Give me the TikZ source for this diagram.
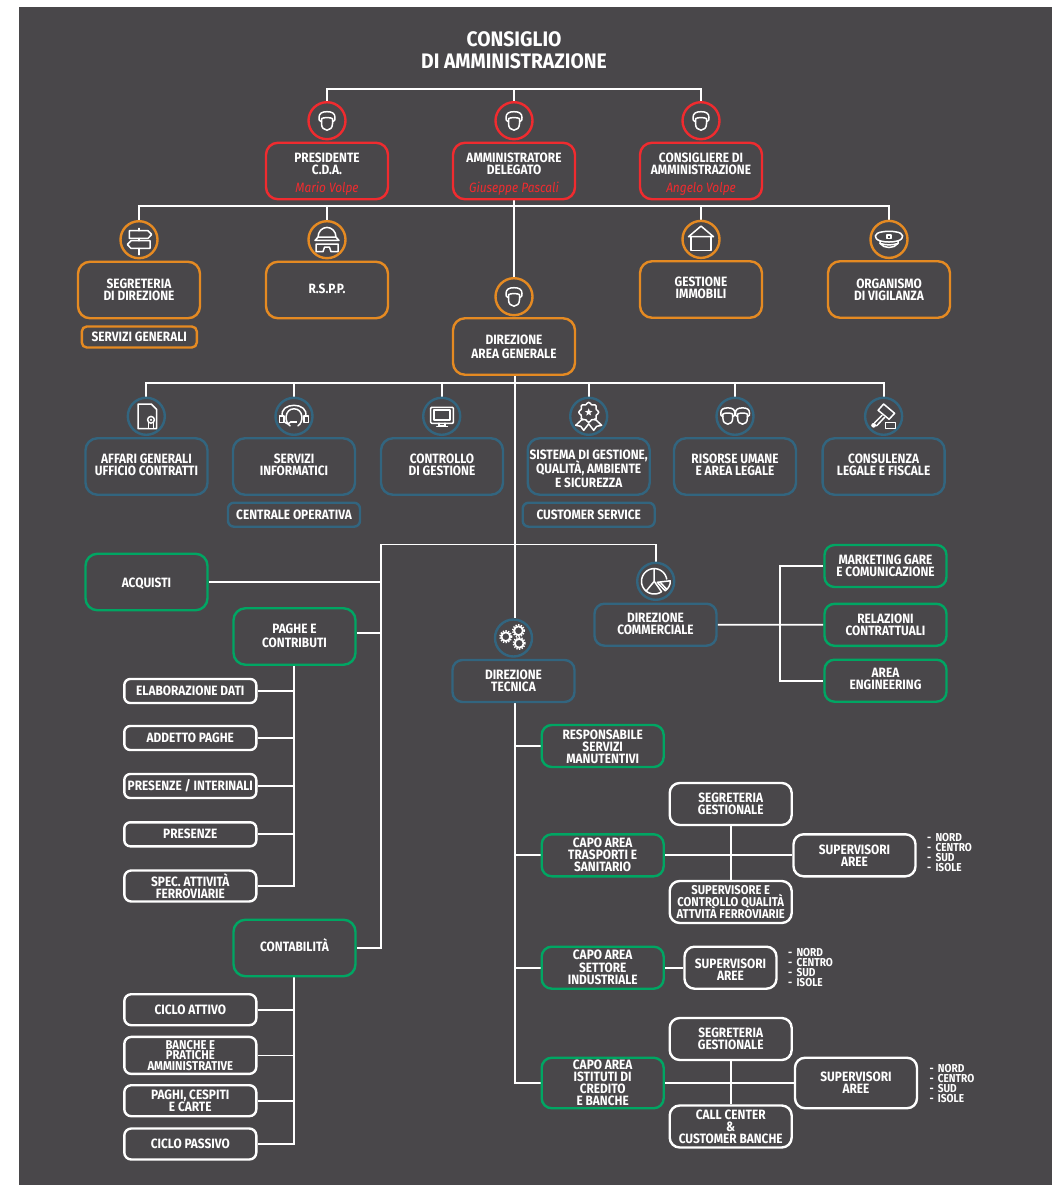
\documentclass[tikz,border=0pt]{standalone}
\usepackage{fontspec}
\setmainfont[FakeStretch=0.88]{Fira Sans}
\newfontfamily\ttlface[FakeStretch=0.92]{Fira Sans}
\usetikzlibrary{backgrounds,calc}
\definecolor{bg}{HTML}{49474A}
\definecolor{cred}{HTML}{F02B2F}
\definecolor{corg}{HTML}{E58A22}
\definecolor{cblu}{HTML}{32657F}
\definecolor{cgrn}{HTML}{00A663}
\newcommand\upk[1]{\rule[-#1pt]{0pt}{1pt}}
\newcommand\dnk[1]{\rule{0pt}{#1pt}}
\newcommand\nm[1]{{\mdseries\itshape\color{cred}#1}}
\newcommand\bxf[2]{\lineskiplimit=-20pt\relax\fontsize{#1}{#2}\selectfont\bfseries}
\newcommand\lst{\makebox[8.3pt][l]{-}NORD\\\makebox[8.3pt][l]{-}CENTRO\\\makebox[8.3pt][l]{-}SUD\\\makebox[8.3pt][l]{-}ISOLE}
\tikzset{
 conn/.style={draw=white,line width=1.8pt},
 tb/.style={fill=bg,line width=2.4pt,text=white,align=center,inner sep=0pt,font=\bxf{13.5}{12}},
 big/.style={tb,minimum width=122pt,minimum height=56.5pt,rounded corners=12pt},
 mid/.style={tb,minimum width=122pt,minimum height=42pt,rounded corners=10pt},
 low/.style={tb,minimum width=132pt,minimum height=24pt,rounded corners=6pt},
 lowb/.style={tb,minimum width=132pt,minimum height=31pt,rounded corners=7pt},
 redb/.style={big,draw=cred},
 orgb/.style={big,draw=corg},
 blub/.style={big,draw=cblu},
 grnb/.style={big,draw=cgrn},
 ring/.style={circle,minimum size=37pt,inner sep=0pt,line width=2.4pt,fill=bg},
 listn/.style={text=white,align=left,inner sep=0pt,anchor=west,font=\fontsize{11.5}{10}\selectfont\bfseries},
 ttl/.style={text=white,align=center,inner sep=0pt,font=\ttlface\fontsize{21}{22}\selectfont\bfseries},
 ico/.style={draw=white,line width=1.5pt,line join=round,line cap=round},
 pics/iconface/.style={code={
  \draw[ico] (-5.5,-2) .. controls (-4,-3.5) and (4,-3.5) .. (5.5,-2) -- (5.5,3) .. controls (5.5,7) and (3,9.5) .. (0,9.5) .. controls (-3,9.5) and (-5.5,7) .. (-5.5,3) -- cycle;
  \draw[ico] (-5.5,1) .. controls (-8,0.5) and (-8,-1) .. (-8,-3) .. controls (-8,-7.5) and (-5,-9) .. (0,-9) .. controls (5,-9) and (8,-7.5) .. (8,-3) .. controls (8,-1) and (8,0.5) .. (5.5,1);
 }},
 pics/iconsign/.style={code={
  \draw[ico] (0,-11.3)--(0,-9) (0,-1.3)--(0,1) (0,8.7)--(0,15);
  \draw[ico] (-9.7,-9)--(9,-9)--(12.7,-5.2)--(9,-1.3)--(-9.7,-1.3)--cycle;
  \draw[ico] (11,1)--(-8,1)--(-11.7,4.8)--(-8,8.7)--(11,8.7)--cycle;
 }},
 pics/iconhelmet/.style={code={
  \draw[ico] (-9,-2.5) .. controls (-9,-8) and (-5,-12.3) .. (0,-12.3) .. controls (5,-12.3) and (9,-8) .. (9,-2.5);
  \draw[ico] (-9,-2.5)--(9,-2.5)--(12,0.7)--(-12,0.7)--cycle;
  \draw[ico] (-11,4.3)--(11,4.3)--(11,12)--(4,12)--(2.5,7.5)--(-2.5,7.5)--(-4,12)--(-11,12)--cycle;
 }},
 pics/iconhouse/.style={code={
  \draw[ico] (-12.5,-2.7)--(0,-13.3)--(12.5,-2.7)--cycle;
  \draw[ico] (-10,-2.7)--(-10,11.3)--(10,11.3)--(10,-2.7);
 }},
 pics/iconpolice/.style={code={
  \draw[ico] (-9,1.5) .. controls (-16,-1) and (-15,-6.5) .. (-7,-7.5) .. controls (-3,-8.3) and (3,-8.3) .. (7,-7.5) .. controls (15,-6.5) and (16,-1) .. (9,1.5) .. controls (3,3) and (-3,3) .. (-9,1.5) -- cycle;
  \draw[ico] (-9,1.5) -- (-9,4) .. controls (-5,9.5) and (5,9.5) .. (9,4) -- (9,1.5);
  \draw[ico] (-9,4) .. controls (-3,6) and (3,6) .. (9,4);
  \draw[ico] (-1.8,-4.5) rectangle (1.8,-1);
 }},
 pics/icondoc/.style={code={
  \draw[ico] (-8.3,-12.3)--(5,-12.3)--(10.3,-7)--(10.3,12.3)--(-8.3,12.3)--cycle;
  \draw[ico,fill=bg] (2.3,6)--(2.3,12.3)--(7,12.3)--(7,6);
  \draw[ico,fill=bg] (4.7,3.5) circle[radius=3.4pt];
  \fill[white] (4.7,3.5) circle[radius=1.3pt];
 }},
 pics/iconhead/.style={code={
  \draw[ico] (-11.5,0) .. controls (-13.5,-7) and (-7,-11) .. (0,-11) .. controls (7,-11) and (13.5,-7) .. (11.5,0);
  \draw[ico] (-4,9.5) .. controls (-10,6) and (-9.5,-7.5) .. (0,-7.5) .. controls (9.5,-7.5) and (10,6) .. (4,9.5);
  \draw[ico] (-14.7,-.3) rectangle (-10,6.3);
  \draw[ico] (10,-.3) rectangle (14.7,6.3);
  \draw[ico] (-9,6) .. controls (-8,8) and (-6,8) .. (-3,5.5);
  \fill[white] (-3.5,4.3) rectangle (3,6.5);
 }},
 pics/iconmon/.style={code={
  \draw[ico,rounded corners=1pt] (-11,-9) rectangle (11.7,7);
  \draw[ico] (-7.8,-6.3) rectangle (8.5,3.5);
  \draw[ico] (-2.5,7)--(-2.5,9.8)--(3.2,9.8)--(3.2,7);
  \draw[ico] (-5,10.2)--(5.7,10.2);
 }},
 pics/iconaward/.style={code={
  \draw[ico] plot[smooth cycle,samples=36,domain=0:350] ({(9+1*cos(8*\x))*cos(\x)},{-4+(9+1*cos(8*\x))*sin(\x)});
  \fill[white] (0,-8)--(1,-5.4)--(3.8,-5.2)--(1.6,-3.5)--(2.35,-.8)--(0,-2.3)--(-2.35,-.8)--(-1.6,-3.5)--(-3.8,-5.2)--(-1,-5.4)--cycle;
  \draw[ico] (-6,2.5)--(-13,9)--(-8,10)--(-5,14)--(0,7.5)--(5,14)--(8,10)--(13,9)--(6,2.5);
 }},
 pics/icontwo/.style={code={
  \path pic[scale=.88] at (-7.2,-.5) {iconface};
  \path pic[scale=.88] at (7.5,-.5) {iconface};
 }},
 pics/icongavel/.style={code={
  \draw[ico] (0,-12.3)--(11,-3)--(5.5,3)--(-5.5,-6)--cycle;
  \draw[ico] (-1.5,-1)--(-9,6.5);
  \draw[ico] (1,1)--(-7,9.5);
  \fill[white] (-10,9) circle[radius=2.4pt];
  \draw[ico] (1.7,6.3) rectangle (11.7,12);
 }},
 pics/iconpie/.style={code={
  \draw[ico] plot[samples=40,domain=55:350] ({-1.5+12.7*cos(\x)},{12.7*sin(\x)});
  \draw[ico] (-1.5,-12.7)--(-1.5,0)--(-9.5,9.7) (-1.5,0)--(5.8,10.4);
  \draw[ico] (1.5,1)--(14.5,-.5) .. controls (15,3) and (13,7) .. (9.5,9.5)--cycle;
  \draw[ico] (4.5,1)--(11,8);
 }},
 pics/icongear/.style={code={
  \foreach \p in {(-7.7,-1.3),(5,-7.3),(5.7,5.3)}{
   \draw[white,line width=1.8pt] \p circle[radius=4.4pt];
   \draw[white,line width=1.5pt,dash pattern=on 1.3pt off 1.4pt] \p circle[radius=5.8pt];
  }
 }},
}
\begin{document}
\begin{tikzpicture}[x=1pt,y=-1pt]
\useasboundingbox (0,0) rectangle (1052,1185);

\node[ttl] (title) at (514,50.5) {CONSIGLIO\\DI AMMINISTRAZIONE};

% red
\node[ring,draw=cred] (cpres) at (327,120.7) {};
\node[ring,draw=cred] (cad) at (514,120.7) {};
\node[ring,draw=cred] (ccons) at (701,120.7) {};
\node[redb] (pres) at (327,171) {\dnk{16}PRESIDENTE\\C.D.A.\\[6pt]\nm{Mario Volpe}};
\node[redb] (ad) at (514,171) {\dnk{16}AMMINISTRATORE\\DELEGATO\\[6pt]\nm{Giuseppe Pascali}};
\node[redb] (cons) at (701,171) {\dnk{16}CONSIGLIERE DI\\AMMINISTRAZIONE\\[6pt]\nm{Angelo Volpe}};

% orange
\node[ring,draw=corg] (cseg) at (139,239.7) {};
\node[ring,draw=corg] (crspp) at (327,239.7) {};
\node[ring,draw=corg] (cges) at (701,239.4) {};
\node[ring,draw=corg] (corgv) at (889,239.4) {};
\node[ring,draw=corg] (cdag) at (514,296.7) {};
\node[orgb] (seg) at (139,290) {SEGRETERIA\\DI DIREZIONE};
\node[orgb] (rspp) at (327,290) {R.S.P.P.\upk{2}};
\node[orgb] (ges) at (701,289.5) {GESTIONE\\IMMOBILI\upk{3}};
\node[orgb] (orgv) at (889,289.5) {ORGANISMO\\DI VIGILANZA};
\node[orgb] (dag) at (514,346.5) {DIREZIONE\\[2pt]AREA GENERALE};
\node[tb,draw=corg,minimum width=115pt,minimum height=21pt,rounded corners=5pt] (sg) at (139.3,337) {SERVIZI GENERALI};

% blue row
\node[ring,draw=cblu] (caf) at (146.3,416.3) {};
\node[ring,draw=cblu] (csi) at (294,416.3) {};
\node[ring,draw=cblu] (cco) at (441.7,416.3) {};
\node[ring,draw=cblu] (csg) at (588.7,416.3) {};
\node[ring,draw=cblu] (cru) at (735,416.3) {};
\node[ring,draw=cblu] (ccl) at (883.6,416.3) {};
\node[blub] (af) at (146.5,466.5) {AFFARI GENERALI\\UFFICIO CONTRATTI\upk{3}};
\node[blub] (si) at (294,466.5) {SERVIZI\\INFORMATICI\upk{3}};
\node[blub] (co) at (442,466.5) {CONTROLLO\\DI GESTIONE\upk{3}};
\node[blub] (sg2) at (588.7,466.5) {\dnk{13.5}SISTEMA DI GESTIONE,\\[2pt]QUALITÀ, AMBIENTE\\[2pt]E SICUREZZA};
\node[blub] (ru) at (735,466.5) {RISORSE UMANE\\E AREA LEGALE\upk{4}};
\node[blub] (cl) at (883.6,466.5) {CONSULENZA\\LEGALE E FISCALE\upk{4}};
\node[low,draw=cblu] (cop) at (294,514.7) {CENTRALE OPERATIVA};
\node[low,draw=cblu] (cse) at (588.7,514.7) {CUSTOMER SERVICE};

% commerciale
\node[ring,draw=cblu] (cdc) at (655.7,581.3) {};
\node[mid,draw=cblu] (dc) at (655.5,624.7) {DIREZIONE\\COMMERCIALE\upk{2}};
\node[mid,draw=cgrn] (mk) at (885.5,566) {MARKETING GARE\\E COMUNICAZIONE};
\node[mid,draw=cgrn] (rc) at (885.5,624.8) {RELAZIONI\\CONTRATTUALI};
\node[mid,draw=cgrn] (ae) at (885.5,680.7) {AREA\\ENGINEERING\upk{3}};

% left column
\node[grnb] (acq) at (146.5,582) {\dnk{12.5}ACQUISTI};
\node[grnb] (pag) at (294.5,636.5) {PAGHE E\\[2pt]CONTRIBUTI\upk{2}};
\node[grnb] (cnt) at (294.5,948) {CONTABILITÀ\upk{5}};
\node[low,draw=white] (el) at (190.3,691) {ELABORAZIONE DATI};
\node[low,draw=white] (ap) at (190.3,738) {ADDETTO PAGHE};
\node[low,draw=white] (pi) at (190.3,786) {PRESENZE / INTERINALI};
\node[low,draw=white] (pr) at (190.3,834.3) {PRESENZE};
\node[lowb,draw=white] (sp) at (190.3,886) {SPEC. ATTIVITÀ\\FERROVIARIE};
\node[lowb,draw=white] (ca) at (190.3,1009.7) {CICLO ATTIVO};
\node[lowb,draw=white,minimum height=37pt,font=\bxf{12.8}{10.6}] (ba) at (190.3,1055.4) {BANCHE E\\PRATICHE\\AMMINISTRATIVE};
\node[lowb,draw=white] (pc) at (190.3,1100.7) {PAGHI, CESPITI\\E CARTE};
\node[lowb,draw=white] (cp) at (190.3,1144) {CICLO PASSIVO};

% tecnica
\node[ring,draw=cblu] (cdt) at (513.5,638) {};
\node[mid,draw=cblu] (dt) at (513.5,681) {DIREZIONE\\TECNICA};
\node[mid,draw=cgrn] (rs) at (602.7,746) {\dnk{12}RESPONSABILE\\SERVIZI\\MANUTENTIVI};
\node[mid,draw=cgrn] (ct) at (602.7,855.3) {CAPO AREA\\TRASPORTI E\\SANITARIO};
\node[mid,draw=white] (sg1) at (730.7,804) {SEGRETERIA\\GESTIONALE};
\node[mid,draw=white,font=\bxf{12.8}{12}] (sq) at (730.7,902) {SUPERVISORE E\\CONTROLLO QUALITÀ\\ATTVITÀ FERROVIARIE};
\node[mid,draw=white] (sv1) at (854.5,855.3) {SUPERVISORI\\AREE};
\node[listn] (l1) at (927,853) {\lst};
\node[mid,draw=cgrn] (cs) at (602.7,967.7) {CAPO AREA\\[1pt]SETTORE\\INDUSTRIALE};
\node[mid,draw=white,minimum width=92pt] (sv2) at (730.5,967.7) {\dnk{13.5}SUPERVISORI\\AREE};
\node[listn] (l2) at (788,968) {\lst};
\node[mid,draw=cgrn,minimum height=50.5pt] (ci) at (602.7,1083) {CAPO AREA\\ISTITUTI DI\\CREDITO\\E BANCHE};
\node[mid,draw=white] (sg3) at (730.7,1039) {SEGRETERIA\\GESTIONALE};
\node[mid,draw=white] (cc) at (730.7,1126.5) {CALL CENTER\\\&\\CUSTOMER BANCHE};
\node[mid,draw=white,minimum height=50.5pt] (sv3) at (856,1083) {SUPERVISORI\\AREE};
\node[listn] (l3) at (929.3,1084) {\lst};

% icons
\pic at (cpres) {iconface};
\pic at (cad) {iconface};
\pic at (ccons) {iconface};
\pic at (cdag) {iconface};
\pic at (cseg) {iconsign};
\pic at (crspp) {iconhelmet};
\pic at (cges) {iconhouse};
\pic at (corgv) {iconpolice};
\pic at (caf) {icondoc};
\pic at (csi) {iconhead};
\pic at (cco) {iconmon};
\pic at (csg) {iconaward};
\pic at (cru) {icontwo};
\pic at (ccl) {icongavel};
\pic at (cdc) {iconpie};
\pic at (cdt) {icongear};

\begin{scope}[on background layer]
\fill[white] (0,0) rectangle (1052,1185);
\fill[bg] (19,7) rectangle (1052,1185);
\coordinate (b1) at (514,89);
\coordinate (b2) at (514,206.3);
\coordinate (b3) at (515.3,383);
\coordinate (b4) at (381,544.5);
\coordinate (tr) at (515.3,383);
\coordinate (jp) at (381,633.3);
\coordinate (jc) at (780,624.8);
\coordinate (jt) at (293.7,700);
\draw[conn] (cpres.north) |- (b1) -| (ccons.north);
\draw[conn] (b1) -- (cad.north);
\draw[conn] (cseg.north) |- (b2) -| (corgv.north);
\draw[conn] (crspp.north) |- (b2);
\draw[conn] (cges.north) |- (b2);
\draw[conn] (ad.south) -- (cdag.north);
\draw[conn] (caf.north) |- (b3) -| (ccl.north);
\draw[conn] (csi.north) |- (b3);
\draw[conn] (cco.north) |- (b3);
\draw[conn] (csg.north) |- (b3);
\draw[conn] (cru.north) |- (b3);
\draw[conn] (tr |- dag.south) -- (tr |- cdt.north);
\draw[conn] (cdc.north) |- (b4) -- (b4 |- cnt.east) -- (cnt.east);
\draw[conn] (acq.east) -- (acq.east -| b4);
\draw[conn] (jp) -- (jp -| pag.east);
\draw[conn] (dc.east) -- (rc.west);
\draw[conn] (mk.west) -| (jc) |- (ae.west);
\draw[conn] (jt |- pag.south) -- (jt |- sp.east) -- (sp.east);
\draw[conn] (el.east) -- (el.east -| jt);
\draw[conn] (ap.east) -- (ap.east -| jt);
\draw[conn] (pi.east) -- (pi.east -| jt);
\draw[conn] (pr.east) -- (pr.east -| jt);
\draw[conn] (jt |- cnt.south) -- (jt |- cp.east) -- (cp.east);
\draw[conn] (ca.east) -- (ca.east -| jt);
\draw[conn] (ba.east) -- (ba.east -| jt);
\draw[conn] (pc.east) -- (pc.east -| jt);
\draw[conn] (tr |- dt.south) -- (tr |- ci.west) -- (ci.west);
\draw[conn] (rs.west) -- (rs.west -| tr);
\draw[conn] (ct.west) -- (ct.west -| tr);
\draw[conn] (cs.west) -- (cs.west -| tr);
\draw[conn] (ct.east) -- (sv1.west);
\draw[conn] (sg1.south) -- (sq.north);
\draw[conn] (cs.east) -- (sv2.west);
\draw[conn] (ci.east) -- (sv3.west);
\draw[conn] (sg3.south) -- (cc.north);
\end{scope}
\end{tikzpicture}
\end{document}
